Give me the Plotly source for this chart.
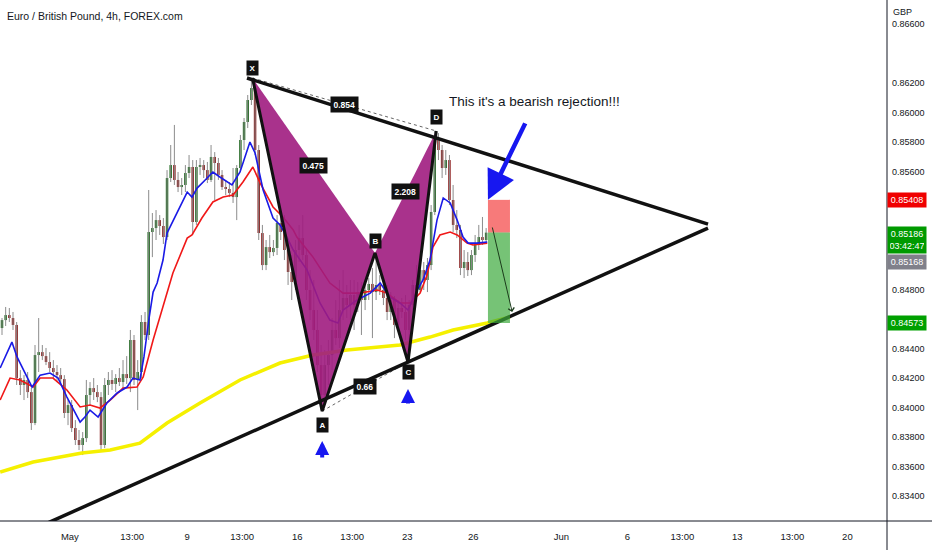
import plotly.graph_objects as go

# ---------------- data ----------------
opens = [0.84539, 0.84593, 0.84627, 0.84607, 0.84560, 0.84200, 0.84153, 0.84187, 0.84105, 0.83895,
         0.84356, 0.84376, 0.84349, 0.84309, 0.84268, 0.84241, 0.84220, 0.84193, 0.83963, 0.84017,
         0.83861, 0.83780, 0.83746, 0.83793, 0.84085, 0.84132, 0.84105, 0.84071, 0.83746, 0.84153,
         0.84187, 0.84160, 0.84200, 0.84173, 0.84227, 0.84200, 0.84458, 0.84187, 0.84241, 0.84580,
         0.84492, 0.85190, 0.85217, 0.85271, 0.85231, 0.85156, 0.85556, 0.85644, 0.85543, 0.85495,
         0.85509, 0.85590, 0.85631, 0.85258, 0.85631, 0.85644, 0.85610, 0.85543, 0.85699, 0.85658,
         0.85577, 0.85495, 0.85482, 0.85455, 0.85427, 0.85624, 0.85814, 0.85936, 0.86085,
         0.86166, 0.85746, 0.85183, 0.84966, 0.85088, 0.85054, 0.85082, 0.85251, 0.85190, 0.85068,
         0.84919, 0.84851, 0.85068, 0.85149, 0.85034, 0.84797, 0.84661, 0.84526, 0.84288, 0.84085,
         0.84288, 0.84356, 0.84526, 0.84471, 0.84661, 0.84743, 0.84695, 0.84763, 0.84695, 0.84783,
         0.84729, 0.84797, 0.84838, 0.84783, 0.84831, 0.84797, 0.84743, 0.84648, 0.84729, 0.84560,
         0.84675, 0.84648, 0.84526, 0.84695, 0.84831, 0.84797, 0.84932, 0.84865, 0.84966, 0.85326,
         0.85814, 0.85746, 0.85624, 0.85678, 0.85407, 0.85238, 0.85204, 0.84946, 0.84987, 0.84932,
         0.85034, 0.85102, 0.85156, 0.85136]
highs = [0.84607, 0.84682, 0.84675, 0.84648, 0.84580, 0.84254, 0.84220, 0.84241, 0.84132, 0.84424,
         0.84607, 0.84424, 0.84404, 0.84376, 0.84322, 0.84288, 0.84268, 0.84220, 0.84051, 0.84051,
         0.83915, 0.83848, 0.83834, 0.84187, 0.84173, 0.84200, 0.84153, 0.84105, 0.84200, 0.84241,
         0.84254, 0.84227, 0.84268, 0.84322, 0.84349, 0.84526, 0.84492, 0.84322, 0.84627, 0.84648,
         0.85475, 0.85319, 0.85339, 0.85305, 0.85285, 0.85610, 0.85780, 0.85916, 0.85597, 0.85556,
         0.85644, 0.85712, 0.85678, 0.85678, 0.85692, 0.85678, 0.85665, 0.85780, 0.85732, 0.85692,
         0.85610, 0.85543, 0.85529, 0.85624, 0.85644, 0.85848, 0.85963, 0.86119, 0.86234,
         0.86207, 0.85780, 0.85238, 0.85136, 0.85170, 0.85136, 0.85305, 0.85339, 0.85305, 0.85136,
         0.85034, 0.85136, 0.85238, 0.85305, 0.85082, 0.84932, 0.84865, 0.84661, 0.84424, 0.84390,
         0.84458, 0.84607, 0.84729, 0.84865, 0.84932, 0.84831, 0.84865, 0.84865, 0.84851, 0.84851,
         0.84831, 0.84878, 0.84946, 0.85048, 0.84898, 0.84878, 0.84831, 0.84783, 0.84756, 0.84729,
         0.84743, 0.84763, 0.84729, 0.84865, 0.84966, 0.84987, 0.84987, 0.85014, 0.85373, 0.85875,
         0.85861, 0.85780, 0.85746, 0.85712, 0.85509, 0.85339, 0.85238, 0.85068, 0.85054, 0.85068,
         0.85170, 0.85238, 0.85292, 0.85217]
lows = [0.84492, 0.84553, 0.84580, 0.84526, 0.84153, 0.84085, 0.84051, 0.84065, 0.83848, 0.83881,
        0.84241, 0.84322, 0.84288, 0.84241, 0.84200, 0.84173, 0.84153, 0.83929, 0.83881, 0.83834,
        0.83746, 0.83712, 0.83678, 0.83766, 0.84017, 0.84051, 0.84037, 0.83712, 0.83725, 0.84085,
        0.84119, 0.84105, 0.84146, 0.84119, 0.84160, 0.84105, 0.84153, 0.83983, 0.84200, 0.84458,
        0.84458, 0.85020, 0.85136, 0.85170, 0.85109, 0.85136, 0.85529, 0.85509, 0.85461, 0.85441,
        0.85461, 0.85556, 0.85170, 0.85238, 0.85577, 0.85556, 0.85522, 0.85529, 0.85407, 0.85543,
        0.85475, 0.85441, 0.85427, 0.85387, 0.85271, 0.85597, 0.85746, 0.85895, 0.86051,
        0.85712, 0.85136, 0.84932, 0.84932, 0.85014, 0.85027, 0.85034, 0.85136, 0.85000, 0.84831,
        0.84729, 0.84797, 0.84987, 0.85000, 0.84729, 0.84593, 0.84458, 0.84241, 0.83983, 0.84017,
        0.84153, 0.84254, 0.84424, 0.84404, 0.84593, 0.84607, 0.84593, 0.84526, 0.84648, 0.84492,
        0.84661, 0.84729, 0.84471, 0.84729, 0.84763, 0.84695, 0.84593, 0.84593, 0.84471, 0.84526,
        0.84607, 0.84458, 0.84322, 0.84661, 0.84763, 0.84783, 0.84797, 0.84783, 0.84932, 0.85305,
        0.85678, 0.85556, 0.85577, 0.85373, 0.85190, 0.85149, 0.84898, 0.84878, 0.84892, 0.84898,
        0.84987, 0.85068, 0.85102, 0.85109]
closes = [0.84593, 0.84627, 0.84607, 0.84560, 0.84200, 0.84153, 0.84187, 0.84105, 0.83895, 0.84356,
          0.84376, 0.84349, 0.84309, 0.84268, 0.84241, 0.84220, 0.84193, 0.83963, 0.84017, 0.83861,
          0.83780, 0.83746, 0.83793, 0.84085, 0.84132, 0.84105, 0.84071, 0.83746, 0.84153, 0.84187,
          0.84160, 0.84200, 0.84173, 0.84227, 0.84200, 0.84458, 0.84187, 0.84241, 0.84580, 0.84492,
          0.85190, 0.85217, 0.85271, 0.85231, 0.85156, 0.85556, 0.85644, 0.85543, 0.85495, 0.85509,
          0.85590, 0.85631, 0.85258, 0.85631, 0.85644, 0.85610, 0.85543, 0.85699, 0.85658, 0.85577,
          0.85495, 0.85482, 0.85455, 0.85427, 0.85624, 0.85814, 0.85936, 0.86085, 0.86166,
          0.85746, 0.85183, 0.84966, 0.85088, 0.85054, 0.85082, 0.85251, 0.85190, 0.85068, 0.84919,
          0.84851, 0.85068, 0.85149, 0.85034, 0.84797, 0.84661, 0.84526, 0.84288, 0.84085, 0.84288,
          0.84356, 0.84526, 0.84471, 0.84661, 0.84743, 0.84695, 0.84763, 0.84695, 0.84783, 0.84729,
          0.84797, 0.84838, 0.84783, 0.84831, 0.84797, 0.84743, 0.84648, 0.84729, 0.84560, 0.84675,
          0.84648, 0.84526, 0.84695, 0.84831, 0.84797, 0.84932, 0.84865, 0.84966, 0.85326, 0.85814,
          0.85746, 0.85624, 0.85678, 0.85407, 0.85238, 0.85204, 0.84946, 0.84987, 0.84932, 0.85034,
          0.85102, 0.85156, 0.85136, 0.85186]

# moving averages (bar position, price)
ma_fast_x = [-0.5, 2.7, 4.1, 8.2, 10.4, 13.1, 15.3, 17.7, 21.3, 22.6, 24.0, 26.2, 28.6, 31.4, 34.1, 35.7,
             37.6, 38.7, 40.1, 41.2, 42.3, 43.9, 45.0, 47.7, 50.5, 51.8, 53.2, 55.4, 57.5, 59.4, 62.7,
             64.9, 67.6, 69.0, 71.2, 73.9, 75.8, 77.7, 79.4, 83.2, 86.7, 89.4, 91.6, 93.0, 96.8, 100.4,
             103.1, 105.8, 108.5, 110.7, 113.2, 114.8, 116.7, 118.6, 120.3, 122.2, 124.1, 125.7, 127.1,
             129.5, 132.3]
ma_fast_y = [0.84268, 0.84444, 0.84343, 0.84139, 0.84220, 0.84234, 0.84200, 0.84071, 0.83902, 0.83936,
             0.83983, 0.83936, 0.84031, 0.84099, 0.84139, 0.84200, 0.84187, 0.84343, 0.84607, 0.84783,
             0.84844, 0.85000, 0.85183, 0.85319, 0.85461, 0.85427, 0.85488, 0.85543, 0.85597, 0.85563,
             0.85509, 0.85597, 0.85800, 0.85726, 0.85475, 0.85285, 0.85238, 0.85156, 0.85068, 0.84932,
             0.84709, 0.84593, 0.84573, 0.84661, 0.84729, 0.84776, 0.84844, 0.84749, 0.84709, 0.84661,
             0.84797, 0.84865, 0.85000, 0.85271, 0.85421, 0.85387, 0.85271, 0.85156, 0.85115, 0.85115,
             0.85122]
ma_mid_x = [-0.5, 2.2, 4.9, 8.5, 10.4, 13.9, 17.7, 21.3, 24.0, 26.7, 29.5, 33.0, 36.8, 38.5, 41.2, 43.6,
            46.6, 50.5, 51.8, 54.5, 57.5, 60.3, 63.0, 65.7, 68.4, 70.4, 73.9, 76.6, 79.4, 80.4, 84.8,
            89.4, 93.0, 97.6, 102.3, 105.0, 108.5, 111.3, 114.0, 115.9, 117.5, 119.4, 122.2, 124.1,
            126.8, 128.4, 131.2, 132.3]
ma_mid_y = [0.84051, 0.84200, 0.84187, 0.84139, 0.84200, 0.84200, 0.84119, 0.84004, 0.84017, 0.83997,
            0.84051, 0.84132, 0.84139, 0.84207, 0.84458, 0.84661, 0.84912, 0.85149, 0.85170, 0.85285,
            0.85394, 0.85427, 0.85441, 0.85529, 0.85631, 0.85522, 0.85360, 0.85292, 0.85204, 0.85156,
            0.85020, 0.84844, 0.84776, 0.84776, 0.84797, 0.84776, 0.84709, 0.84709, 0.84776, 0.84898,
            0.85088, 0.85170, 0.85190, 0.85170, 0.85115, 0.85102, 0.85115, 0.85115]
ma_slow_x = [-0.5, 8.5, 21.8, 29.5, 37.6, 45.0, 54.0, 64.9, 75.8, 84.8, 94.1, 108.5, 116.7, 123.0,
             132.3, 138.5]
ma_slow_y = [0.83563, 0.83631, 0.83692, 0.83712, 0.83759, 0.83895, 0.84031, 0.84187, 0.84302, 0.84356,
             0.84390, 0.84424, 0.84478, 0.84526, 0.84573, 0.84614]

# harmonic pattern X A B C D
pattern_names = ["X", "A", "B", "C", "D"]
pattern_x = [68.3, 87.3, 101.7, 110.7, 118.4]
pattern_y = [0.86234, 0.83976, 0.85048, 0.84309, 0.85875]
ratio_labels = ["0.854", "0.475", "2.208", "0.66"]   # XD, XB, BD, AC

# triangle trend lines
upper_x = [66.8, 192.5]
upper_y = [0.86234, 0.85244]
lower_x = [4.9, 192.5]
lower_y = [0.83134, 0.85217]

# short position tool
pos_start, pos_end = 132.5, 138.5
entry, stop, target = 0.85186, 0.85408, 0.84573
target_arrow_x = [133.6, 139.1]
target_arrow_y = [0.85231, 0.84648]
bid_price = 0.85168
countdown = "03:42:47"

note_text = "This it's a bearish rejection!!!"
note_x, note_y = 145.1, 0.86078

title_text = "Euro / British Pound, 4h, FOREX.com"
currency = "GBP"

x_tick_vals = [18.5, 35.5, 50.5, 65.5, 80.5, 95.5, 110.5, 128.5, 152.5, 170.5, 185.5, 200.5, 215.5, 230.5]
x_tick_text = ["May", "13:00", "9", "13:00", "16", "13:00", "23", "26", "Jun", "6", "13:00", "13", "13:00", "20"]
y_tick_vals = [0.834, 0.836, 0.838, 0.840, 0.842, 0.844, 0.846, 0.848, 0.850, 0.852, 0.854, 0.856,
               0.858, 0.860, 0.862, 0.866]

# ---------------- figure ----------------
FONT = "Liberation Sans, Arial, sans-serif"
TXT = "#131722"
GREEN_C = "#1e6a1e"
RED_C = "#8b1a1a"
WICK = "#8c8c8c"

fig = go.Figure()

bars = list(range(len(closes)))
wx, wy = [], []
for i, (h, l) in enumerate(zip(highs, lows)):
    wx += [i, i, None]
    wy += [l, h, None]
fig.add_trace(go.Scatter(x=wx, y=wy, mode="lines", line=dict(color=WICK, width=1), hoverinfo="skip"))

body_base = [min(o, c) for o, c in zip(opens, closes)]
body_len = [max(abs(c - o), 0.00002) for o, c in zip(opens, closes)]
body_col = [GREEN_C if c >= o else RED_C for o, c in zip(opens, closes)]
fig.add_trace(go.Bar(x=bars, y=body_len, base=body_base, width=0.68,
                     marker=dict(color=body_col, line=dict(width=0))))

fig.add_trace(go.Scatter(x=ma_slow_x, y=ma_slow_y, mode="lines", line=dict(color="#f5f000", width=3.5)))
fig.add_trace(go.Scatter(x=ma_mid_x, y=ma_mid_y, mode="lines", line=dict(color="#f01818", width=1.6)))
fig.add_trace(go.Scatter(x=ma_fast_x, y=ma_fast_y, mode="lines", line=dict(color="#1a1ae6", width=1.6)))

X, A, B, C, D = list(zip(pattern_x, pattern_y))
FILL = "rgba(160, 28, 128, 0.9)"
for tri in ([X, A, B, X], [B, C, D, B]):
    fig.add_trace(go.Scatter(x=[p[0] for p in tri], y=[p[1] for p in tri], mode="lines",
                             fill="toself", fillcolor=FILL, line=dict(width=0)))
for p, q in ((X, D), (A, C)):
    fig.add_trace(go.Scatter(x=[p[0], q[0]], y=[p[1], q[1]], mode="lines",
                             line=dict(color="#666666", width=1, dash="dot")))

fig.add_trace(go.Scatter(x=upper_x, y=upper_y, mode="lines", line=dict(color="#111111", width=3.5)))
fig.add_trace(go.Scatter(x=lower_x, y=lower_y, mode="lines", line=dict(color="#111111", width=3.5)))
fig.add_trace(go.Scatter(x=pattern_x, y=pattern_y, mode="lines", line=dict(color="#111111", width=3)))

shapes = [
    dict(type="rect", xref="x", yref="y", x0=pos_start, x1=pos_end, y0=entry, y1=stop,
         fillcolor="rgba(245, 85, 85, 0.78)", line=dict(width=0)),
    dict(type="rect", xref="x", yref="y", x0=pos_start, x1=pos_end, y0=target, y1=entry,
         fillcolor="rgba(60, 170, 60, 0.7)", line=dict(width=0)),
    dict(type="line", xref="paper", yref="paper", x0=0, x1=932 / 887, y0=0, y1=0,
         line=dict(color=TXT, width=1)),
    dict(type="line", xref="paper", yref="paper", x0=1, x1=1, y0=-29 / 521, y1=1,
         line=dict(color=TXT, width=1)),
]

ann = []
ann.append(dict(x=target_arrow_x[1], y=target_arrow_y[1], ax=target_arrow_x[0], ay=target_arrow_y[0],
                axref="x", ayref="y", xref="x", yref="y", showarrow=True, text="",
                arrowhead=4, arrowsize=1.2, arrowwidth=1, arrowcolor="#1b3b1b"))
ann.append(dict(x=pos_start, y=stop, xref="x", yref="y", ax=38, ay=-78, showarrow=True, text="",
                arrowhead=2, arrowsize=1.3, arrowwidth=4.5, arrowcolor="#1717f0"))
for (px_, py_), ay, so in ((A, 48, 30), (C, 43, 27)):
    ann.append(dict(x=px_, y=py_, xref="x", yref="y", ax=0, ay=ay, showarrow=True, text="",
                    standoff=so, arrowhead=2, arrowsize=0.7, arrowwidth=4, arrowcolor="#1717f0"))

label_shift = {"X": 10, "A": -14, "B": 12, "C": -10, "D": 14}
for name, px_, py_ in zip(pattern_names, pattern_x, pattern_y):
    ann.append(dict(x=px_, y=py_, xref="x", yref="y", text="<b>%s</b>" % name, showarrow=False,
                    yshift=label_shift[name], font=dict(family=FONT, size=8, color="white"),
                    bgcolor="#111111", borderpad=2.5))
for (p, q), txt in zip(((X, D), (X, B), (B, D), (A, C)), ratio_labels):
    ann.append(dict(x=(p[0] + q[0]) / 2, y=(p[1] + q[1]) / 2, xref="x", yref="y", text="<b>%s</b>" % txt,
                    showarrow=False, font=dict(family=FONT, size=8.5, color="white"),
                    bgcolor="#111111", borderpad=2.5))

ann.append(dict(x=note_x, y=note_y, xref="x", yref="y", text=note_text, showarrow=False,
                font=dict(family=FONT, size=13.5, color=TXT)))
ann.append(dict(x=5 / 887, y=1 - 16 / 521, xref="paper", yref="paper", text=title_text, showarrow=False,
                xanchor="left", yanchor="middle", font=dict(family=FONT, size=10.5, color=TXT)))
ann.append(dict(x=1.005, y=1 - 12 / 521, xref="paper", yref="paper", text=currency, showarrow=False,
                xanchor="left", yanchor="middle", font=dict(family=FONT, size=9, color=TXT)))

def axis_label(price, text, color, yshift=0):
    return dict(x=1, y=price, xref="paper", yref="y", text=text, showarrow=False, xanchor="left",
                yshift=yshift, bgcolor=color, borderpad=2, width=34,
                font=dict(family=FONT, size=9, color="white"))

ann.append(axis_label(stop, "%.5f" % stop, "#f00000"))
ann.append(axis_label(entry, "%.5f<br>%s" % (entry, countdown), "#009a00", yshift=-7))
ann.append(axis_label(bid_price, "%.5f" % bid_price, "#80808a", yshift=-27))
ann.append(axis_label(target, "%.5f" % target, "#00a000"))

fig.update_layout(
    width=932, height=550, margin=dict(l=0, r=45, t=0, b=29),
    plot_bgcolor="white", paper_bgcolor="white", showlegend=False, barmode="overlay",
    font=dict(family=FONT, size=9, color=TXT),
    shapes=shapes, annotations=ann,
    xaxis=dict(range=[-0.545, 241.3], showgrid=False, zeroline=False, tickvals=x_tick_vals,
               ticktext=x_tick_text, ticks="", showline=False, tickfont=dict(size=9.5, color=TXT),
               ticklabelstandoff=8, fixedrange=True),
    yaxis=dict(range=[0.83231, 0.86763], side="right", showgrid=False, zeroline=False,
               tickvals=y_tick_vals, ticktext=["%.5f" % v for v in y_tick_vals], ticks="",
               showline=False, tickfont=dict(size=9, color=TXT), ticklabelstandoff=4, fixedrange=True),
)

fig.write_html("out.html", config={"displayModeBar": False},
               post_script="document.body.style.margin='0';")
